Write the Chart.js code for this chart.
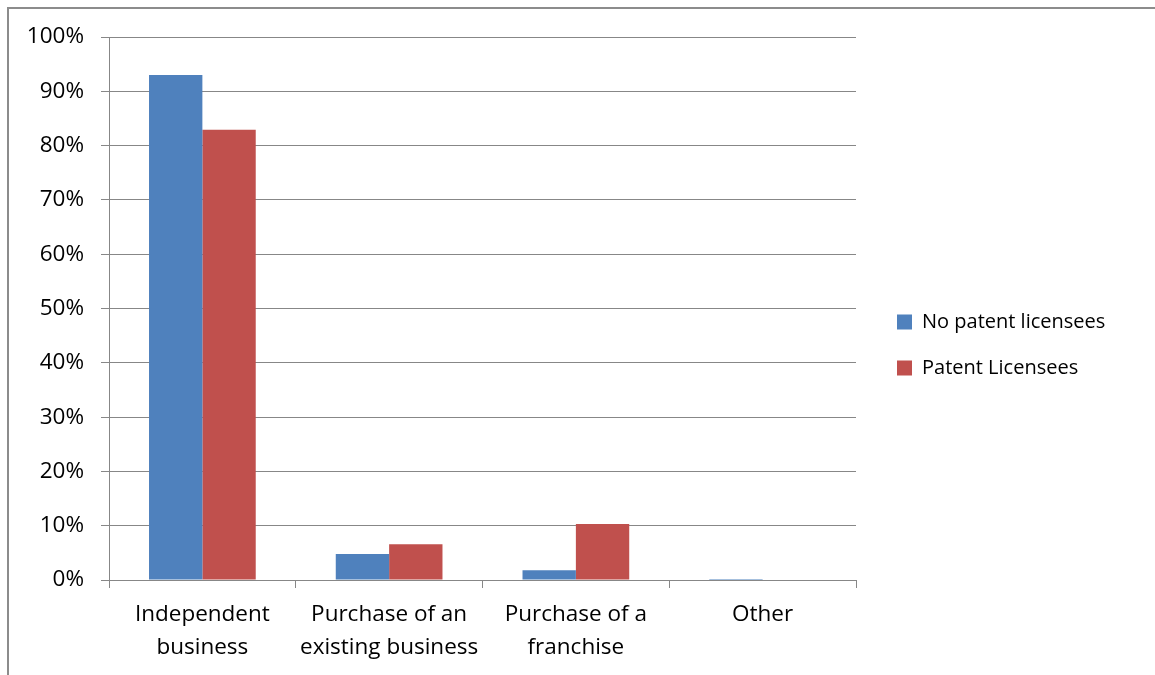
<!DOCTYPE html>
<html>
<head>
<meta charset="utf-8">
<script src="https://cdn.jsdelivr.net/npm/chart.js@4"></script>
<style>
  html, body { margin: 0; padding: 0; background: #fff; }
  #wrap { position: relative; width: 1155px; height: 675px; }
  #frame { position: absolute; left: 7px; top: 7px; right: 0; bottom: 0;
           border-top: 2px solid #8c8c8c; border-left: 2px solid #8c8c8c; }
  canvas { position: absolute; left: 0; top: 0; }
</style>
</head>
<body>
<div id="wrap">
  <div id="frame"></div>
  <canvas id="chart" width="1155" height="675"></canvas>
</div>
<script>
// データ
const categories = [
  ['Independent', 'business'],
  ['Purchase of an', 'existing business'],
  ['Purchase of a', 'franchise'],
  'Other'
];
const seriesNames = ['No patent licensees', 'Patent Licensees'];
const noPatentValues = [93, 4.8, 1.8, 0.2];
const patentValues = [82.9, 6.6, 10.3, 0];
const yMin = 0;
const yMax = 100;
const yStep = 10;

const gridColor = '#878787';
const font = { family: "'Open Sans', sans-serif", size: 22.5 };
const legendFont = { family: "'Open Sans', sans-serif", size: 20 };
const plotRight = 856; // プロット領域の右端

// 凡例の位置を微調整
const legendShift = {
  id: 'legendShift',
  afterLayout(chart) {
    chart.legend.left += 15;
    chart.legend.right += 15;
    chart.legend.top -= 11;
    chart.legend.bottom -= 11;
  }
};

const chart = new Chart(document.getElementById('chart'), {
  type: 'bar',
  data: {
    labels: categories,
    datasets: [{
      label: seriesNames[0],
      data: noPatentValues,
      backgroundColor: '#4F81BD',
      categoryPercentage: 2 / 3.5,
      barPercentage: 1,
    }, {
      label: seriesNames[1],
      data: patentValues,
      backgroundColor: '#C0504D',
      categoryPercentage: 2 / 3.5,
      barPercentage: 1,
    }]
  },
  options: {
    responsive: false,
    animation: false,
    layout: { padding: { top: 37, left: 0, right: 0, bottom: 0 } },
    plugins: {
      legend: {
        position: 'right',
        labels: {
          boxWidth: 15,
          boxHeight: 15,
          padding: 26,
          color: '#000',
          font: legendFont,
        }
      },
      tooltip: { enabled: false }
    },
    scales: {
      x: {
        grid: { offset: true, drawOnChartArea: false, drawTicks: true, tickLength: 8, color: gridColor },
        border: { color: gridColor },
        ticks: {
          color: '#000',
          font: Object.assign({}, font, { lineHeight: 33 / 22.5 }),
          padding: 10,
          maxRotation: 0
        },
        afterFit(scale) { scale.height = 95; }
      },
      y: {
        min: yMin,
        max: yMax,
        grid: { color: gridColor, tickLength: 8 },
        border: { color: gridColor },
        ticks: {
          stepSize: yStep,
          color: '#000',
          font: font,
          padding: 17,
          callback: v => v + '%'
        },
        afterFit(scale) { scale.width = 109; }
      }
    }
  },
  plugins: [legendShift]
});

// プロット領域の右端が合うように右余白を調整
chart.options.layout.padding.right += chart.chartArea.right - plotRight;
chart.update();
</script>
</body>
</html>
